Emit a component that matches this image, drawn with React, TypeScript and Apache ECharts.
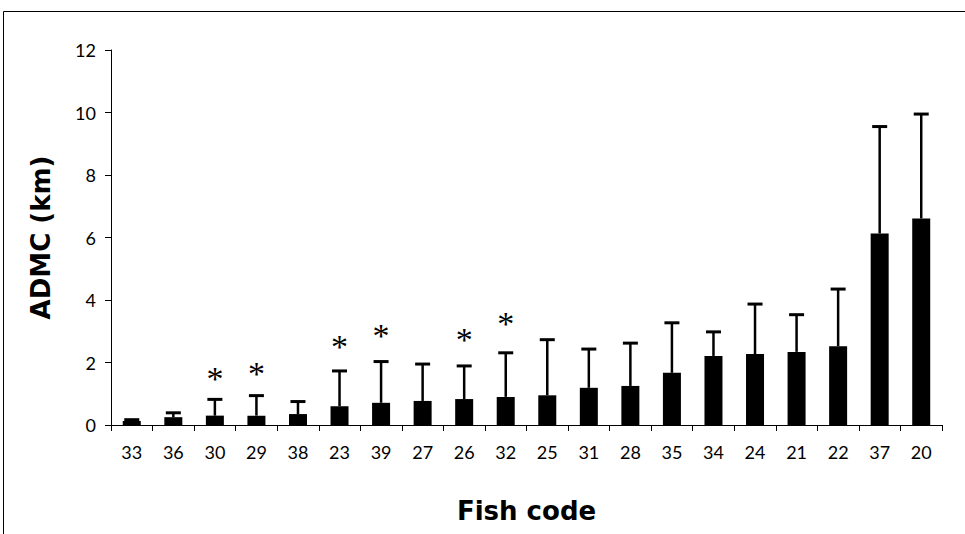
import React, { useEffect, useRef } from "react";
import * as echarts from "echarts";

const categories = ["33", "36", "30", "29", "38", "23", "39", "27", "26", "32", "25", "31", "28", "35", "34", "24", "21", "22", "37", "20"];
const meanValues = [0.13, 0.25, 0.3, 0.3, 0.35, 0.6, 0.71, 0.77, 0.83, 0.9, 0.95, 1.19, 1.25, 1.67, 2.21, 2.27, 2.34, 2.52, 6.13, 6.61];
const errorTops = [0.17, 0.39, 0.82, 0.94, 0.75, 1.73, 2.03, 1.95, 1.89, 2.31, 2.73, 2.43, 2.62, 3.27, 2.98, 3.87, 3.53, 4.35, 9.55, 9.95];
// asterisk markers (category, height in km); null where no marker
const starLevels: (number | null)[] = [null, null, 1.62, 1.78, null, 2.63, 2.98, null, 2.87, 3.38, null, null, null, null, null, null, null, null, null, null];
const yTicks = { min: 0, max: 12, interval: 2 };

const FONT = "Lato";
const TITLE_FONT = "DejaVu Sans";

export default function App() {
  const ref = useRef<HTMLDivElement>(null);
  useEffect(() => {
    if (!ref.current) return;
    const chart = echarts.init(ref.current, null, { renderer: "svg" });
    const errData = categories.map((c, i) => [i, meanValues[i], errorTops[i]]);
    const starData = starLevels
      .map((v, i) => (v == null ? null : [i, v]))
      .filter((d) => d != null);
    chart.setOption({
      animation: false,
      backgroundColor: "#ffffff",
      graphic: [
        {
          type: "rect",
          shape: { x: 3.5, y: 11.5, width: 1000, height: 600 },
          style: { fill: "none", stroke: "#000", lineWidth: 1 },
          silent: true,
        },
      ],
      grid: { left: 111, right: 23, top: 50, bottom: 109, containLabel: false },
      xAxis: {
        type: "category",
        data: categories,
        boundaryGap: true,
        name: "Fish code",
        nameLocation: "middle",
        nameGap: 73,
        nameTextStyle: { fontFamily: TITLE_FONT, fontSize: 26, fontWeight: "bold", color: "#000" },
        axisLine: { lineStyle: { color: "#000", width: 1 } },
        axisTick: { show: true, length: 6, lineStyle: { color: "#000" } },
        axisLabel: { fontFamily: FONT, fontSize: 18, color: "#000", margin: 18, interval: 0 },
        splitLine: { show: false },
      },
      yAxis: {
        type: "value",
        min: yTicks.min,
        max: yTicks.max,
        interval: yTicks.interval,
        name: "ADMC (km)",
        nameLocation: "middle",
        nameRotate: 90,
        nameGap: 57,
        nameTextStyle: { fontFamily: TITLE_FONT, fontSize: 26, fontWeight: "bold", color: "#000" },
        axisLine: { show: true, lineStyle: { color: "#000", width: 1 } },
        axisTick: { show: true, length: 6, lineStyle: { color: "#000" } },
        axisLabel: { fontFamily: FONT, fontSize: 18, color: "#000", margin: 15 },
        splitLine: { show: false },
      },
      series: [
        {
          type: "bar",
          data: meanValues,
          barWidth: 18,
          itemStyle: { color: "#000" },
          z: 2,
        },
        {
          type: "custom",
          data: errData,
          z: 3,
          renderItem: (params: any, api: any) => {
            const idx = api.value(0);
            const mean = api.value(1);
            const top = api.value(2);
            const p0 = api.coord([idx, mean]);
            const p1 = api.coord([idx, top]);
            const half = 7.5;
            return {
              type: "group",
              children: [
                {
                  type: "line",
                  shape: { x1: p0[0], y1: p0[1], x2: p1[0], y2: p1[1] },
                  style: { stroke: "#000", lineWidth: 2.5 },
                },
                {
                  type: "line",
                  shape: { x1: p1[0] - half, y1: p1[1], x2: p1[0] + half, y2: p1[1] },
                  style: { stroke: "#000", lineWidth: 3 },
                },
              ],
            };
          },
        },
        {
          type: "custom",
          data: starData,
          z: 4,
          renderItem: (params: any, api: any) => {
            const p = api.coord([api.value(0), api.value(1)]);
            return {
              type: "text",
              x: p[0],
              y: p[1] + 4,
              style: {
                text: "*",
                fontFamily: "Liberation Serif",
                fontSize: 34,
                fill: "#000",
                align: "center",
                verticalAlign: "middle",
              },
            };
          },
        },
      ],
    });
    return () => chart.dispose();
  }, []);
  return (
    <div style={{ position: "absolute", left: 0, top: 0 }}>
      <div ref={ref} style={{ width: 965, height: 534 }} />
    </div>
  );
}
